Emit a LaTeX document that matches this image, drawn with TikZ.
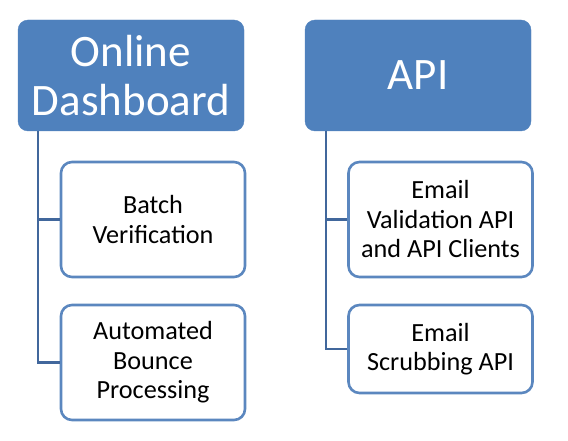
\documentclass[tikz,border=0pt]{standalone}
\usepackage{fontspec}
\setmainfont{Carlito}
\definecolor{headblue}{HTML}{4F81BD}
\definecolor{linkblue}{HTML}{41679C}
\definecolor{boxline}{HTML}{5B87BF}
\begin{document}
\begin{tikzpicture}[x=1pt,y=-1pt,
  headbox/.style={draw=headblue, fill=headblue, rounded corners=10pt, text=white,
    minimum width=226pt, minimum height=111pt, inner sep=0pt, align=center,
    font=\fontsize{45}{49}\selectfont},
  childbox/.style={draw=boxline, line width=2.6pt, fill=white, rounded corners=11pt,
    minimum width=184pt, inner sep=0pt, align=center,
    font=\fontsize{26.2}{29.5}\selectfont},
  link/.style={draw=linkblue, line width=2.4pt}]
\useasboundingbox (0,0) rectangle (568,441);
\node[headbox] (p1) at (131,75.5) {Online\\Dashboard};
\node[headbox] (p2) at (418,75.5) {API};
\node[childbox, minimum height=115pt] (c1) at (153,219.5) {Batch\\Verification};
\node[childbox, minimum height=115pt] (c2) at (153,362.5) {Automated\\Bounce\\Processing};
\node[childbox, minimum height=115pt] (c3) at (440.5,219.5) {Email\\Validation API\\and API Clients};
\node[childbox, minimum height=88pt] (c4) at (440.5,349) {Email\\Scrubbing API};
\coordinate (l1) at (38,131);
\coordinate (l2) at (326,131);
\draw[link] (l1) |- (c2.west);
\draw[link] (l1) |- (c1.west);
\draw[link] (l2) |- (c4.west);
\draw[link] (l2) |- (c3.west);
\end{tikzpicture}
\end{document}
